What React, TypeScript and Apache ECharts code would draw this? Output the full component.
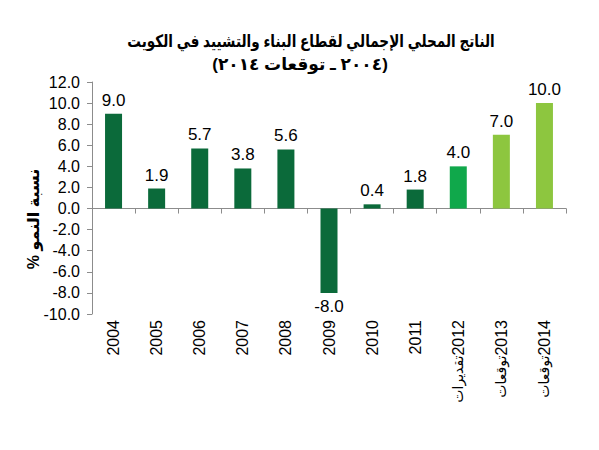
import React, { useEffect, useRef } from "react";
import * as echarts from "echarts";

const years = ["2004", "2005", "2006", "2007", "2008", "2009", "2010", "2011", "2012", "2013", "2014"];
const suffixes = ["", "", "", "", "", "", "", "", "تقديرات", "توقعات", "توقعات"];
const growth = [9.0, 1.9, 5.7, 3.8, 5.6, -8.0, 0.4, 1.8, 4.0, 7.0, 10.0];
const barKinds = ["actual", "actual", "actual", "actual", "actual", "actual", "actual", "actual", "estimate", "forecast", "forecast"];
const titleLine1 = "الناتج المحلي الإجمالي لقطاع البناء والتشييد في الكويت";
const titleLine2 = "(٢٠٠٤ ـ توقعات ٢٠١٤)";
const yAxisTitle = "% نسبة النمو";

const kindColors: Record<string, string> = {
  actual: "#0b6a3a",
  estimate: "#10a84b",
  forecast: "#8dc63f",
};

const FONT = "'Liberation Sans', Arial, 'DejaVu Sans', sans-serif";

export default function App() {
  const ref = useRef<HTMLDivElement>(null);
  useEffect(() => {
    if (!ref.current) return;
    const chart = echarts.init(ref.current, undefined, { renderer: "svg" });
    const labelsData = years.map((y, i) => (suffixes[i] ? `{ar|${suffixes[i]}}{n|${y}}` : `{n|${y}}`));
    chart.setOption({
      animation: false,
      backgroundColor: "#ffffff",
      grid: { left: 92, right: 33, top: 82, bottom: 136, containLabel: false },
      graphic: [
        {
          type: "text",
          x: 311,
          y: 41,
          scaleX: 0.8,
          style: {
            text: titleLine1,
            font: `bold 17px ${FONT}`,
            fill: "#000",
            align: "center",
            verticalAlign: "middle",
          },
        },
        {
          type: "text",
          x: 300,
          y: 64,
          style: {
            text: titleLine2,
            font: `bold 17px ${FONT}`,
            fill: "#000",
            align: "center",
            verticalAlign: "middle",
          },
        },
        {
          type: "text",
          x: 33,
          y: 219,
          rotation: Math.PI / 2,
          style: {
            text: yAxisTitle,
            font: `bold 16px ${FONT}`,
            fill: "#000",
            align: "center",
            verticalAlign: "middle",
          },
        },
      ],
      xAxis: [
        {
          type: "category",
          data: years,
          axisLine: { onZero: true, lineStyle: { color: "#8c8c8c", width: 1 } },
          axisTick: { show: true, length: 5, lineStyle: { color: "#8c8c8c" } },
          axisLabel: { show: false },
          splitLine: { show: false },
        },
        {
          type: "category",
          data: labelsData,
          position: "bottom",
          axisLine: { show: false, onZero: false },
          axisTick: { show: false },
          splitLine: { show: false },
          axisLabel: {
            interval: 0,
            rotate: 90,
            margin: 6,
            color: "#000",
            rich: {
              n: { fontSize: 16, fontFamily: FONT, color: "#000" },
              ar: { fontSize: 14, fontFamily: FONT, color: "#000" },
            },
          },
        },
      ],
      yAxis: {
        type: "value",
        min: -10,
        max: 12,
        interval: 2,
        axisLine: { show: true, lineStyle: { color: "#8c8c8c" } },
        axisTick: { show: true, length: 5, lineStyle: { color: "#8c8c8c" } },
        splitLine: { show: false },
        axisLabel: {
          margin: 12,
          fontSize: 16,
          fontFamily: FONT,
          color: "#000",
          formatter: (v: number) => v.toFixed(1),
        },
      },
      series: [
        {
          type: "bar",
          xAxisIndex: 0,
          barWidth: 17,
          data: growth.map((v, i) => ({
            value: v,
            itemStyle: { color: kindColors[barKinds[i]] },
            label: { position: v < 0 ? "bottom" : "top" },
          })),
          label: {
            show: true,
            distance: 5,
            fontSize: 17,
            fontFamily: FONT,
            color: "#000",
            formatter: (p: any) => Number(p.value).toFixed(1),
          },
        },
      ],
    });
    return () => chart.dispose();
  }, []);
  return <div ref={ref} style={{ width: 599, height: 450, position: "absolute", left: 0, top: 0 }} />;
}
